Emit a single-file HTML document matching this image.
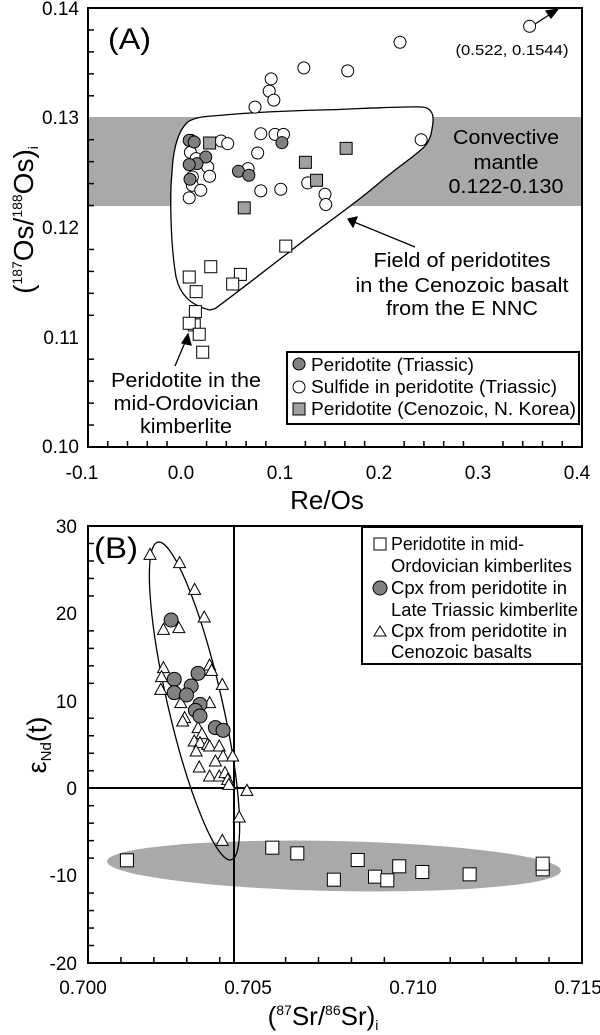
<!DOCTYPE html>
<html><head><meta charset="utf-8"><style>
html,body{margin:0;padding:0;background:#fff}
svg{display:block;font-family:"Liberation Sans",Arial,sans-serif}
</style></head><body>
<svg id="s" width="600" height="1035" viewBox="0 0 600 1035" xmlns="http://www.w3.org/2000/svg">
<rect width="600" height="1035" fill="#fff"/>
<!-- Panel A -->
<rect x="88" y="117" width="494" height="89" fill="#a9a9a9"/>
<g transform="translate(0,8) scale(0.3846,0.3326) translate(0,-22)">
<path d="M545,930 C495,915 468,884 458,832 C442,728 442,572 447,520 C450,442 463,390 489,364 C507,351 530,348 559,346 C650,336 780,330 858,328 C988,322 1066,317 1100,320 C1118,322 1128,338 1126,364 C1123,390 1121,416 1105,437 C1079,468 1040,494 988,546 C910,624 832,681 754,754 C689,811 624,871 559,926 Z" fill="#fff" stroke="#000" stroke-width="1.3" vector-effect="non-scaling-stroke"/>
</g>
<g id="ga"></g>
<rect x="88" y="8" width="494" height="439" fill="none" stroke="#000" stroke-width="2"/>
<g font-size="19" text-anchor="end" fill="#000">
<text x="79" y="15">0.14</text><text x="79" y="124">0.13</text><text x="79" y="234">0.12</text><text x="79" y="344">0.11</text><text x="79" y="453">0.10</text>
</g>
<g font-size="19" text-anchor="middle">
<text x="82" y="479">-0.1</text><text x="181" y="479">0.0</text><text x="280" y="479">0.1</text><text x="379" y="479">0.2</text><text x="478" y="479">0.3</text><text x="577" y="479">0.4</text>
</g>
<text x="327" y="509" font-size="26" text-anchor="middle">Re/Os</text>
<text transform="translate(33,220) rotate(-90)" font-size="28" text-anchor="middle">(<tspan font-size="14" dy="-11">187</tspan><tspan dy="11">Os/</tspan><tspan font-size="14" dy="-11">188</tspan><tspan dy="11">Os)</tspan><tspan font-size="14" dy="5">i</tspan></text>
<text x="108" y="49" font-size="30" textLength="43" lengthAdjust="spacingAndGlyphs">(A)</text>
<text x="512" y="55" font-size="15" text-anchor="middle" textLength="113" lengthAdjust="spacingAndGlyphs">(0.522, 0.1544)</text>
<g font-size="20" text-anchor="middle"><text x="506" y="144" textLength="106" lengthAdjust="spacingAndGlyphs">Convective</text><text x="506" y="169" textLength="65" lengthAdjust="spacingAndGlyphs">mantle</text><text x="506" y="193" textLength="115" lengthAdjust="spacingAndGlyphs">0.122-0.130</text></g>
<g font-size="20" text-anchor="middle"><text x="462" y="267" textLength="177" lengthAdjust="spacingAndGlyphs">Field of peridotites</text><text x="462" y="292" textLength="213" lengthAdjust="spacingAndGlyphs">in the Cenozoic basalt</text><text x="462" y="315" textLength="152" lengthAdjust="spacingAndGlyphs">from the E NNC</text></g>
<g font-size="20" text-anchor="middle"><text x="186" y="387" textLength="150" lengthAdjust="spacingAndGlyphs">Peridotite in the</text><text x="186" y="410" textLength="145" lengthAdjust="spacingAndGlyphs">mid-Ordovician</text><text x="186" y="433" textLength="92" lengthAdjust="spacingAndGlyphs">kimberlite</text></g>
<g stroke="#000" stroke-width="1.3" fill="#000">
<line x1="535" y1="24" x2="552" y2="13"/><polygon points="558,9 546,11 551,18"/>
<line x1="415" y1="247" x2="354" y2="222"/><polygon points="348,219 357,217 353,227"/>
<line x1="175" y1="366" x2="186" y2="340"/><polygon points="188,334 182,343 191,345"/>
</g>
<rect x="287" y="352" width="292" height="72" fill="#fff" stroke="#000" stroke-width="2"/>
<g font-size="18">
<circle cx="299" cy="364" r="6" fill="#808080" stroke="#000"/><text x="311" y="371" textLength="163" lengthAdjust="spacingAndGlyphs">Peridotite (Triassic)</text>
<circle cx="299" cy="387" r="6" fill="#fff" stroke="#000"/><text x="311" y="393" textLength="246" lengthAdjust="spacingAndGlyphs">Sulfide in peridotite (Triassic)</text>
<rect x="293" y="403" width="12" height="12" fill="#a0a0a0" stroke="#000"/><text x="311" y="415" textLength="265" lengthAdjust="spacingAndGlyphs">Peridotite (Cenozoic, N. Korea)</text>
</g>
<!-- Panel B -->
<ellipse cx="334" cy="866" rx="227" ry="25" fill="#a9a9a9" transform="rotate(1.2 334 866)"/>
<ellipse cx="194.5" cy="701" rx="163" ry="27" fill="none" stroke="#000" stroke-width="1.3" transform="rotate(77 194.5 701)"/>
<line x1="234" y1="526" x2="234" y2="963" stroke="#000" stroke-width="2"/>
<line x1="88" y1="788" x2="582" y2="788" stroke="#000" stroke-width="2"/>
<g id="gb"></g>
<rect x="88" y="526" width="494" height="437" fill="none" stroke="#000" stroke-width="2"/>
<g font-size="19" text-anchor="end">
<text x="77" y="533">30</text><text x="77" y="620">20</text><text x="77" y="708">10</text><text x="77" y="795">0</text><text x="77" y="882">-10</text><text x="77" y="970">-20</text>
</g>
<g font-size="19" text-anchor="middle">
<text x="83" y="994">0.700</text><text x="248" y="994">0.705</text><text x="413" y="994">0.710</text><text x="578" y="994">0.715</text>
</g>
<text x="323" y="1025" font-size="26" text-anchor="middle">(<tspan font-size="14" dy="-10">87</tspan><tspan dy="10">Sr/</tspan><tspan font-size="14" dy="-10">86</tspan><tspan dy="10">Sr)</tspan><tspan font-size="14" dy="5">i</tspan></text>
<text transform="translate(46,745) rotate(-90)" font-size="27" text-anchor="middle">ε<tspan font-size="15" dy="5">Nd</tspan><tspan dy="-5">(t)</tspan></text>
<text x="94" y="558" font-size="30" textLength="44" lengthAdjust="spacingAndGlyphs">(B)</text>
<rect x="362" y="527" width="220" height="137" fill="#fff" stroke="#000" stroke-width="2"/>
<g font-size="18">
<rect x="374" y="538" width="12" height="12" fill="#fff" stroke="#000"/><text x="391" y="550" textLength="133" lengthAdjust="spacingAndGlyphs">Peridotite in mid-</text><text x="391" y="572" textLength="181" lengthAdjust="spacingAndGlyphs">Ordovician kimberlites</text>
<circle cx="380" cy="588" r="7" fill="#808080" stroke="#000"/><text x="391" y="594" textLength="176" lengthAdjust="spacingAndGlyphs">Cpx from peridotite in</text><text x="391" y="616" textLength="187" lengthAdjust="spacingAndGlyphs">Late Triassic kimberlite</text>
<polygon points="380,626 374,636 386,636" fill="#fff" stroke="#000"/><text x="391" y="637" textLength="176" lengthAdjust="spacingAndGlyphs">Cpx from peridotite in</text><text x="391" y="658" textLength="141" lengthAdjust="spacingAndGlyphs">Cenozoic basalts</text>
</g>
</svg>
<script>
var NS="http://www.w3.org/2000/svg";
function el(g,t,a){var e=document.createElementNS(NS,t);for(var k in a)e.setAttribute(k,a[k]);g.appendChild(e);}
var ga=document.getElementById('ga'),gb=document.getElementById('gb'),s=document.getElementById('s');
for(var i=0;i<=20;i++){var y=8+i*21.95;if(i%5)el(s,'line',{x1:88,x2:94,y1:y,y2:y,stroke:'#000','stroke-width':1.5});}
for(var i=1;i<25;i++){var x=88+i*19.76;if(i%5)el(s,'line',{x1:x,x2:x,y1:447,y2:441,stroke:'#000','stroke-width':1.5});}
for(var i=1;i<25;i++){var y=526+i*17.48;if(i%5)el(s,'line',{x1:88,x2:94,y1:y,y2:y,stroke:'#000','stroke-width':1.5});}
for(var i=1;i<15;i++){var x=88+i*32.93;if(i%5)el(s,'line',{x1:x,x2:x,y1:963,y2:957,stroke:'#000','stroke-width':1.5});}
function ax(v){return v/2.6}function ay(v){return 8+(v-22)/3.007}
var sulf=[[1377,77],[1040,125],[790,202],[904,211],[705,235],[700,272],[712,299],[663,320],[678,400],[715,402],[737,402],[575,422],[592,430],[1095,418],[495,456],[670,458],[645,505],[540,500],[545,528],[500,530],[500,555],[522,570],[492,593],[678,572],[730,567],[800,548],[845,582],[847,613],[497,420],[510,475]];
var gcA=[[492,420],[505,425],[535,470],[512,490],[492,493],[494,537],[620,513],[647,525],[733,427]];
var gsA=[[545,428],[900,444],[794,486],[823,540],[635,623]];
var osA=[[743,738],[548,800],[625,823],[605,852],[492,831],[510,875],[508,935],[505,975],[492,970],[518,1003],[527,1057]];
sulf.forEach(function(p){el(ga,'circle',{cx:ax(p[0]),cy:ay(p[1]),r:6,fill:'#fff',stroke:'#000'});});
gcA.forEach(function(p){el(ga,'circle',{cx:ax(p[0]),cy:ay(p[1]),r:6,fill:'#808080',stroke:'#000'});});
gsA.forEach(function(p){el(ga,'rect',{x:ax(p[0])-6,y:ay(p[1])-6,width:12,height:12,fill:'#a0a0a0',stroke:'#000'});});
osA.forEach(function(p){el(ga,'rect',{x:ax(p[0])-6,y:ay(p[1])-6,width:12,height:12,fill:'#fff',stroke:'#000'});});
function bx(v){return v/2.6}function by(v){return 526+(v-45)/3.0}
var tri=[[390,130],[467,155],[506,235],[531,318],[425,355],[465,350],[545,462],[550,478],[425,470],[420,497],[418,535],[578,520],[545,575],[470,575],[480,620],[475,630],[515,650],[525,668],[505,690],[520,695],[540,700],[510,720],[545,705],[570,705],[580,735],[605,735],[560,750],[518,768],[545,795],[570,795],[585,785],[592,805],[595,820],[642,838],[622,918],[578,988]];
var gcB=[[445,327],[453,505],[497,525],[453,545],[485,552],[515,487],[520,580],[508,598],[520,615],[560,650],[580,658]];
var sqB=[[330,1048],[708,1010],[773,1027],[868,1106],[930,1047],[975,1097],[1007,1108],[1038,1066],[1098,1083],[1221,1090],[1411,1075],[1411,1058]];
tri.forEach(function(p){var x=bx(p[0]),y=by(p[1]);el(gb,'polygon',{points:(x)+','+(y-6)+' '+(x-6)+','+(y+5)+' '+(x+6)+','+(y+5),fill:'#fff',stroke:'#000'});});
gcB.forEach(function(p){el(gb,'circle',{cx:bx(p[0]),cy:by(p[1]),r:7,fill:'#808080',stroke:'#000'});});
sqB.forEach(function(p){el(gb,'rect',{x:bx(p[0])-6.5,y:by(p[1])-6.5,width:13,height:13,fill:'#fff',stroke:'#000'});});
</script>
</body></html>
